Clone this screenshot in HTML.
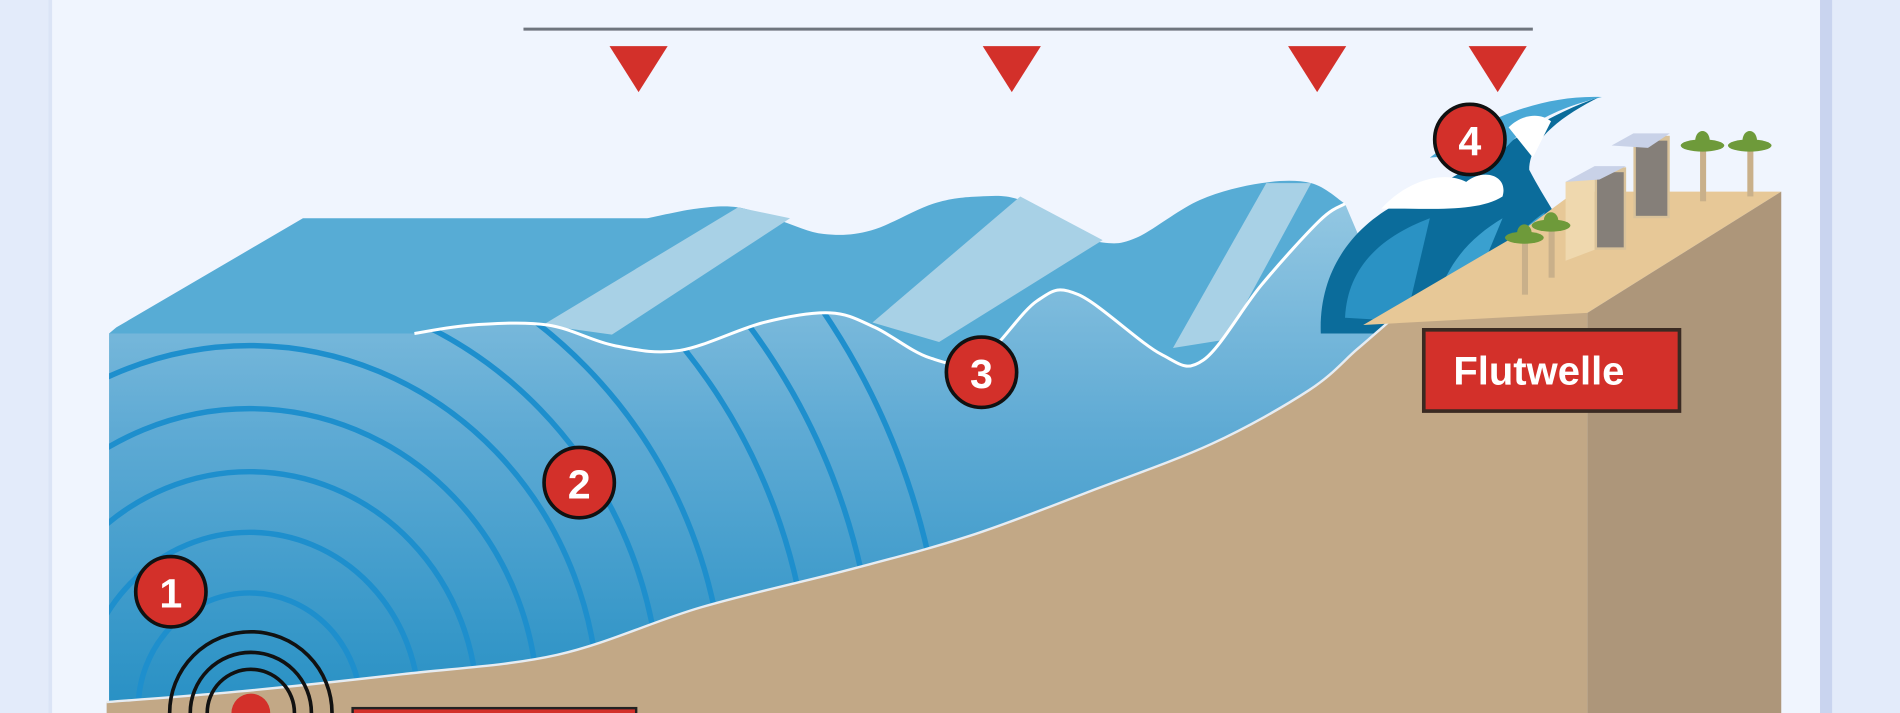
<!DOCTYPE html>
<html><head><meta charset="utf-8"><style>
html,body{margin:0;padding:0;background:#e3ebfa;width:1900px;height:713px;overflow:hidden;}
svg{display:block;overflow:hidden;}
text{font-family:"Liberation Sans",sans-serif;font-weight:bold;}
</style></head><body>
<svg id="ill" width="1900" height="713" viewBox="0 0 1568 588" preserveAspectRatio="none" xmlns="http://www.w3.org/2000/svg">
<defs>
<linearGradient id="front" x1="0" y1="0" x2="0" y2="1">
<stop offset="0" stop-color="#93c7e2"/><stop offset="0.45" stop-color="#5eaad4"/><stop offset="1" stop-color="#2790c4"/>
</linearGradient>
<clipPath id="frontClip"><path id="clipPath1" d=""/></clipPath>
<clipPath id="frame"><rect x="0" y="0" width="1568" height="588"/></clipPath>
</defs>
<g clip-path="url(#frame)">
<rect x="0" y="0" width="1568" height="588" fill="#e3ebfa"/>
<rect x="40" y="0" width="1462" height="588" fill="#f0f5fe"/>
<rect x="40" y="0" width="3" height="588" fill="#dbe4f6"/>
<rect x="1502" y="0" width="10" height="588" fill="#c9d4ef"/>

<line x1="432" y1="24" x2="1265" y2="24" stroke="#6f757e" stroke-width="2.5"/>
<g fill="#d3302a">
<polygon points="503,38 551,38 527,76"/>
<polygon points="811,38 859,38 835,76"/>
<polygon points="1063,38 1111,38 1087,76"/>
<polygon points="1212,38 1260,38 1236,76"/>
</g>

<path id="topSurface" fill="#57acd5" d=""/>
<g fill="#a8d1e6">
<polygon points="448,268 505,276 652,180 609,171"/>
<polygon points="720,266 775,282 910,198 842,162"/>
<polygon points="968,287 1012,280 1082,151 1045,151"/>
</g>
<path id="frontFace" fill="url(#front)" d=""/>
<g clip-path="url(#frontClip)" fill="none" stroke="#1e8fcd" stroke-width="4.5">
<ellipse cx="206" cy="585" rx="92" ry="96"/><ellipse cx="206" cy="585" rx="140" ry="146"/><ellipse cx="206" cy="585" rx="188" ry="196"/>
<ellipse cx="206" cy="585" rx="238" ry="248"/><ellipse cx="206" cy="585" rx="288" ry="300"/><ellipse cx="206" cy="585" rx="339" ry="350"/>
<ellipse cx="206" cy="585" rx="392" ry="400"/><ellipse cx="206" cy="585" rx="463" ry="470"/><ellipse cx="206" cy="585" rx="517" ry="524"/>
<ellipse cx="206" cy="585" rx="574" ry="580"/>
</g>
<path id="surfLine" fill="none" stroke="#ffffff" stroke-width="2.5" d=""/>

<g>
<path d="M1090,275 C1088,220 1120,180 1170,160 C1220,140 1260,100 1320,80 C1290,95 1262,115 1262,140 C1275,165 1290,185 1295,200 L1140,275 Z" fill="#0b6c9b"/>
<path d="M1110,262 C1112,220 1140,195 1180,180 L1160,265 Z" fill="#2a92c4"/>
<path d="M1185,250 C1195,215 1215,195 1240,180 L1215,240 Z" fill="#3aa0cf"/>
<path d="M1240,222 C1245,200 1260,185 1275,175 L1260,212 Z" fill="#3aa0cf"/>
<path d="M1180,130 C1220,100 1270,78 1322,80 C1290,88 1260,100 1240,125 Z" fill="#49a8d6"/>
<path d="M1140,172 C1160,150 1190,140 1210,150 C1225,138 1245,145 1240,162 C1220,175 1180,172 1140,172 Z" fill="#ffffff"/>
<path d="M1245,105 C1255,95 1270,92 1280,100 L1265,130 Z" fill="#ffffff"/>
</g>

<path id="ground" fill="#c2a886" d=""/>
<path id="groundLine" fill="none" stroke="#e6ecf2" stroke-width="2" d=""/>
<polygon fill="#e7c897" points="1125,268 1310,258 1470,158 1300,158 1250,195"/>
<polygon fill="#ad967a" points="1310,258 1470,158 1470,588 1310,588"/>

<g>
<polygon points="1292,150 1316,140 1316,206 1292,215" fill="#efd8ae"/>
<rect x="1316" y="138" width="26" height="68" fill="#d9c29a"/>
<rect x="1318" y="142" width="22" height="62" fill="#6f6e70" opacity="0.8"/>
<polygon points="1292,150 1316,137 1342,137 1320,148" fill="#c9d2e8"/>
<rect x="1348" y="112" width="30" height="68" fill="#d9c29a"/>
<rect x="1350" y="116" width="26" height="62" fill="#6f6e70" opacity="0.8"/>
<polygon points="1330,120 1348,110 1378,110 1360,122" fill="#c9d2e8"/>
</g>
<g>
<rect x="1403" y="118" width="5" height="48" fill="#c9b08a"/>
<rect x="1442" y="118" width="5" height="44" fill="#c9b08a"/>
<rect x="1256" y="195" width="5" height="48" fill="#c9b08a"/>
<rect x="1278" y="185" width="5" height="44" fill="#c9b08a"/>
<g fill="#6e9a3a">
<ellipse cx="1405" cy="120" rx="18" ry="5"/><ellipse cx="1405" cy="116" rx="6" ry="8"/>
<ellipse cx="1444" cy="120" rx="18" ry="5"/><ellipse cx="1444" cy="116" rx="6" ry="8"/>
<ellipse cx="1258" cy="196" rx="16" ry="5"/><ellipse cx="1258" cy="192" rx="6" ry="7"/>
<ellipse cx="1280" cy="186" rx="16" ry="5"/><ellipse cx="1280" cy="182" rx="6" ry="7"/>
</g>
</g>

<g fill="none" stroke="#111" stroke-width="3">
<circle cx="207" cy="588" r="67"/><circle cx="207" cy="588" r="50"/><circle cx="207" cy="588" r="36"/>
<circle cx="207" cy="588" r="16" fill="#d3302a" stroke="none"/>
</g>
<rect x="291" y="584" width="234" height="8" fill="#d3302a" stroke="#222" stroke-width="2"/>

<g>
<g><circle cx="141" cy="488" r="29" fill="#d3302a" stroke="#111" stroke-width="3"/><text x="141" y="501" font-size="34" fill="#fff" text-anchor="middle">1</text></g>
<g><circle cx="478" cy="398" r="29" fill="#d3302a" stroke="#111" stroke-width="3"/><text x="478" y="411" font-size="34" fill="#fff" text-anchor="middle">2</text></g>
<g><circle cx="810" cy="307" r="29" fill="#d3302a" stroke="#111" stroke-width="3"/><text x="810" y="320" font-size="34" fill="#fff" text-anchor="middle">3</text></g>
<g><circle cx="1213" cy="115" r="29" fill="#d3302a" stroke="#111" stroke-width="3"/><text x="1213" y="128" font-size="34" fill="#fff" text-anchor="middle">4</text></g>
</g>

<g>
<rect x="1175" y="272" width="211" height="67" fill="#d3302a" stroke="#3a2a22" stroke-width="3"/>
<text x="1270" y="317" font-size="33" fill="#fff" text-anchor="middle">Flutwelle</text>
</g>
</g>
</svg>
<script>
const surfPts=[[342,275],[390,268],[452,268],[507,285],[561,289],[630,266],[685,258],[722,270],[767,295],[808,297],[856,248],[890,243],[958,292],[993,297],[1041,235],[1089,182],[1110,168]];
const backPts=[[534,180],[575,172],[609,171],[644,182],[680,193],[719,190],[770,168],[808,162],[842,165],[880,190],[910,200],[938,196],[990,165],[1041,151],[1082,151],[1110,168]];
const groundPts=[[88,579],[200,570],[332,556],[460,540],[578,501],[700,470],[800,442],[900,405],[1000,366],[1080,322],[1120,288],[1150,262]];
function smooth(p){let d='';for(let i=0;i<p.length-1;i++){const p0=p[i-1]||p[i],p1=p[i],p2=p[i+1],p3=p[i+2]||p2;
const c1=[p1[0]+(p2[0]-p0[0])/6,p1[1]+(p2[1]-p0[1])/6],c2=[p2[0]-(p3[0]-p1[0])/6,p2[1]-(p3[1]-p1[1])/6];
d+=' C'+c1[0].toFixed(1)+','+c1[1].toFixed(1)+' '+c2[0].toFixed(1)+','+c2[1].toFixed(1)+' '+p2[0]+','+p2[1];}return d;}
const surf='M342,275'+smooth(surfPts);
document.getElementById('surfLine').setAttribute('d',surf);
const front='M90,275 L342,275'+smooth(surfPts).replace(/^/,'')+' L1150,262 L1150,588 L90,588 Z';
document.getElementById('frontFace').setAttribute('d',front);
document.getElementById('clipPath1').setAttribute('d',front);
const revSurf=surfPts.slice().reverse();
document.getElementById('topSurface').setAttribute('d','M96,270 L250,180 L534,180'+smooth(backPts)+smooth(revSurf)+' L90,275 Z');
document.getElementById('ground').setAttribute('d','M88,579'+smooth(groundPts)+' L1310,256 L1310,588 L88,588 Z');
document.getElementById('groundLine').setAttribute('d','M88,579'+smooth(groundPts));
</script>
</body></html>
